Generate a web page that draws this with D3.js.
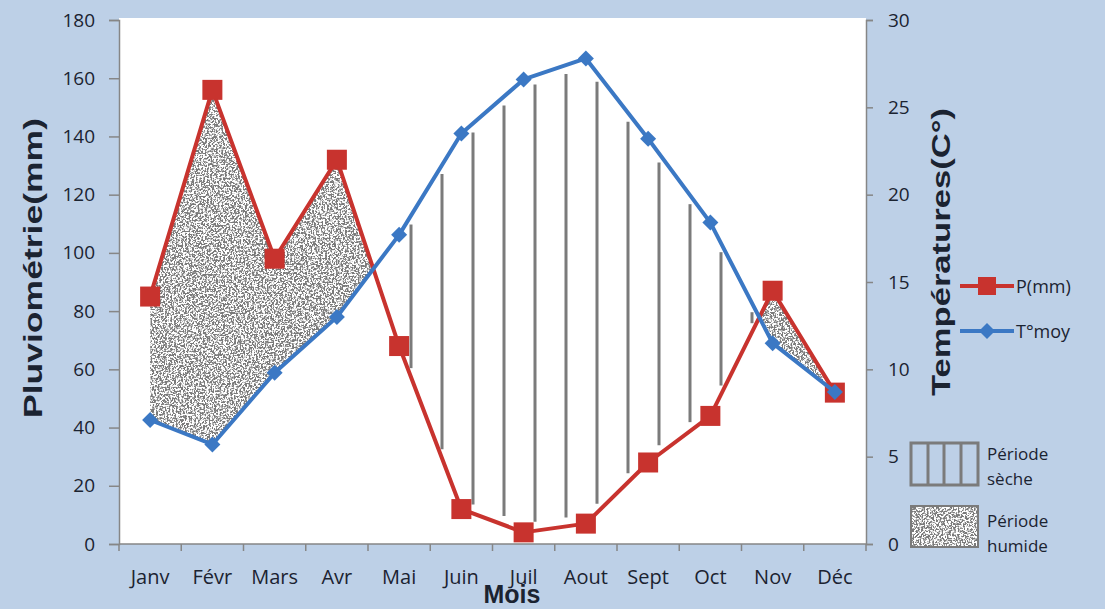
<!DOCTYPE html>
<html>
<head>
<meta charset="utf-8">
<script src="https://cdn.jsdelivr.net/npm/d3@7"></script>
<style>
  body { margin: 0; background: #bdd0e7; }
  svg { display: block; }
  text { font-family: "Open Sans", sans-serif; fill: #1b2331; }
</style>
</head>
<body>
<div id="chart"></div>
<script>
// data
var months = ["Janv", "Févr", "Mars", "Avr", "Mai", "Juin", "Juil", "Aout", "Sept", "Oct", "Nov", "Déc"];
var precip = [85, 156, 98, 132, 68, 12, 4, 7, 28, 44, 87, 52];      // P(mm)
var temps  = [7.1, 5.7, 9.8, 13.0, 17.7, 23.5, 26.6, 27.8, 23.2, 18.4, 11.5, 8.7]; // T°moy
var pTicks = [0, 20, 40, 60, 80, 100, 120, 140, 160, 180];
var tTicks = [0, 5, 10, 15, 20, 25, 30];

var W = 1105, H = 609;
var plotL = 119, plotR = 866, plotT = 20, plotB = 544;
var red = "#c8332e", blue = "#3b78c4", axisCol = "#868686", hatchCol = "#7b7b7b";

var svg = d3.select("#chart").append("svg")
    .attr("width", W).attr("height", H);

var defs = svg.append("defs");
// stipple texture for the wet period
var f = defs.append("filter").attr("id", "stipple")
    .attr("filterUnits", "userSpaceOnUse")
    .attr("x", 0).attr("y", 0).attr("width", W).attr("height", H)
    .attr("color-interpolation-filters", "sRGB");
f.append("feTurbulence").attr("type", "fractalNoise")
    .attr("baseFrequency", 0.55).attr("numOctaves", 4).attr("seed", 4).attr("result", "n");
f.append("feColorMatrix").attr("in", "n").attr("type", "matrix")
    .attr("values", "0 0 0 0 0.48  0 0 0 0 0.48  0 0 0 0 0.48  7 0 0 0 -3.05")
    .attr("result", "dots");
f.append("feComposite").attr("in", "dots").attr("in2", "SourceGraphic").attr("operator", "in");

// plot background
svg.append("rect").attr("x", plotL).attr("y", plotT - 2)
    .attr("width", plotR - plotL).attr("height", plotB - plotT + 2).attr("fill", "#fff");

var x = d3.scaleBand().domain(months).range([plotL, plotR]);
var y = d3.scaleLinear().domain([0, 180]).range([plotB, plotT]);
var yT = d3.scaleLinear().domain([0, 30]).range([plotB, plotT]);
var cx = function(m) { return x(m) + x.bandwidth() / 2; };

// points in pixels, with crossings of the two curves inserted
var pts = [];
months.forEach(function(m, i) {
  var p = { x: cx(m), yp: y(precip[i]), yt: yT(temps[i]) };
  p.d = p.yt - p.yp;
  pts.push(p);
  if (i < months.length - 1) {
    var q = { x: cx(months[i + 1]), yp: y(precip[i + 1]), yt: yT(temps[i + 1]) };
    q.d = q.yt - q.yp;
    if (p.d * q.d < 0) {
      var t = p.d / (p.d - q.d);
      var yy = p.yp + t * (q.yp - p.yp);
      pts.push({ x: p.x + t * (q.x - p.x), yp: yy, yt: yy, d: 0 });
    }
  }
});

// split into runs by sign
var runs = [], cur = [];
pts.forEach(function(p) {
  cur.push(p);
  if (p.d === 0) {
    if (cur.length > 1) runs.push(cur);
    cur = [p];
  }
});
if (cur.length > 1) runs.push(cur);

function polyPath(run) {
  var a = run.map(function(p) { return p.x + "," + p.yp; });
  var b = run.slice().reverse().map(function(p) { return p.x + "," + p.yt; });
  return "M" + a.join("L") + "L" + b.join("L") + "Z";
}
function interp(run, xx, key) {
  for (var i = 0; i < run.length - 1; i++) {
    if (xx >= run[i].x && xx <= run[i + 1].x) {
      var t = (xx - run[i].x) / (run[i + 1].x - run[i].x);
      return run[i][key] + t * (run[i + 1][key] - run[i][key]);
    }
  }
  return null;
}

runs.forEach(function(run) {
  var wet = d3.sum(run, function(p) { return p.d; }) > 0;
  if (wet) {
    svg.append("path").attr("d", polyPath(run))
        .attr("fill", "#000").attr("filter", "url(#stipple)");
  } else {
    // vertical hatching for the dry period
    var x0 = run[0].x, x1 = run[run.length - 1].x;
    var xs = d3.range(380, x1, 31).filter(function(v) { return v > x0 + 8; });
    xs.forEach(function(xx) {
      var a = interp(run, xx, "yt") + 9, b = interp(run, xx, "yp") - 9;
      if (b - a > 4) {
        svg.append("line").attr("x1", xx).attr("x2", xx).attr("y1", a).attr("y2", b)
            .attr("stroke", hatchCol).attr("stroke-width", 3);
      }
    });
  }
});

// axes
var gl = svg.append("g").attr("transform", "translate(" + plotL + ",0)")
    .call(d3.axisLeft(y).tickValues(pTicks).tickSize(10).tickPadding(14));
var gr = svg.append("g").attr("transform", "translate(" + plotR + ",0)")
    .call(d3.axisRight(yT).tickValues(tTicks).tickSize(7).tickPadding(15));
var gb = svg.append("g").attr("transform", "translate(0," + plotB + ")")
    .call(d3.axisBottom(x).tickSize(0).tickPadding(26));
[gl, gr, gb].forEach(function(g) {
  g.select(".domain").attr("stroke", axisCol).attr("stroke-width", 1.5);
  g.selectAll(".tick line").attr("stroke", axisCol).attr("stroke-width", 1.5);
  g.selectAll("text").attr("fill", "#1b2331").style("font-family", "Open Sans, sans-serif");
});
gl.selectAll("text").style("font-size", "19px");
gr.selectAll("text").style("font-size", "19px");
gb.selectAll("text").style("font-size", "20px");
gb.select(".domain").attr("d", "M" + plotL + ",0H" + plotR);
// category boundary ticks
gb.selectAll(".bound").data(d3.range(months.length + 1)).enter().append("line")
    .attr("x1", function(i) { return plotL + i * x.step(); })
    .attr("x2", function(i) { return plotL + i * x.step(); })
    .attr("y1", 0).attr("y2", 7)
    .attr("stroke", axisCol).attr("stroke-width", 1.5);

// lines
var lineP = d3.line().x(function(d, i) { return cx(months[i]); }).y(function(d) { return y(d); });
var lineT = d3.line().x(function(d, i) { return cx(months[i]); }).y(function(d) { return yT(d); });

svg.append("path").datum(precip).attr("d", lineP)
    .attr("fill", "none").attr("stroke", red).attr("stroke-width", 4).attr("stroke-linejoin", "round");
svg.selectAll(".pm").data(precip).enter().append("rect")
    .attr("x", function(d, i) { return cx(months[i]) - 10; })
    .attr("y", function(d) { return y(d) - 10; })
    .attr("width", 20).attr("height", 20).attr("fill", red);

svg.append("path").datum(temps).attr("d", lineT)
    .attr("fill", "none").attr("stroke", blue).attr("stroke-width", 4).attr("stroke-linejoin", "round");
var diamond = "M0,-8L8,0L0,8L-8,0Z";
svg.selectAll(".tm").data(temps).enter().append("path")
    .attr("transform", function(d, i) { return "translate(" + cx(months[i]) + "," + yT(d) + ")"; })
    .attr("d", diamond).attr("fill", blue);

// axis titles
svg.append("text").attr("transform", "translate(42,268) rotate(-90)")
    .attr("text-anchor", "middle")
    .attr("textLength", 300).attr("lengthAdjust", "spacingAndGlyphs")
    .style("font-family", "Liberation Sans, Arial, sans-serif").style("font-weight", "bold")
    .style("font-size", "26px").text("Pluviométrie(mm)");
svg.append("text").attr("transform", "translate(950,252) rotate(-90)")
    .attr("text-anchor", "middle")
    .attr("textLength", 288).attr("lengthAdjust", "spacingAndGlyphs")
    .style("font-family", "Liberation Sans, Arial, sans-serif").style("font-weight", "bold")
    .style("font-size", "25px").text("Températures(C°)");
svg.append("text").attr("x", 512).attr("y", 603)
    .attr("text-anchor", "middle")
    .style("font-family", "Liberation Sans, Arial, sans-serif").style("font-weight", "bold")
    .style("font-size", "25px").text("Mois");

// legend
var leg = [
  { name: "P(mm)", color: red, y: 286, mark: "square" },
  { name: "T°moy", color: blue, y: 331, mark: "diamond" }
];
leg.forEach(function(l) {
  svg.append("line").attr("x1", 960).attr("x2", 1014).attr("y1", l.y).attr("y2", l.y)
      .attr("stroke", l.color).attr("stroke-width", 4);
  if (l.mark === "square") {
    svg.append("rect").attr("x", 978).attr("y", l.y - 9).attr("width", 18).attr("height", 18).attr("fill", l.color);
  } else {
    svg.append("path").attr("transform", "translate(987," + l.y + ")").attr("d", diamond).attr("fill", l.color);
  }
  svg.append("text").attr("x", 1016).attr("y", l.y + 7).style("font-size", "18px").text(l.name);
});

// dry box
svg.append("rect").attr("x", 911).attr("y", 443).attr("width", 67).attr("height", 42)
    .attr("fill", "none").attr("stroke", hatchCol).attr("stroke-width", 3);
[928, 944, 961].forEach(function(xx) {
  svg.append("line").attr("x1", xx).attr("x2", xx).attr("y1", 443).attr("y2", 485)
      .attr("stroke", hatchCol).attr("stroke-width", 3);
});
svg.append("text").attr("x", 987).attr("y", 460).style("font-size", "17px").text("Période");
svg.append("text").attr("x", 987).attr("y", 485).style("font-size", "17px").text("sèche");
// wet box
svg.append("rect").attr("x", 911).attr("y", 506).attr("width", 67).attr("height", 41)
    .attr("fill", "#fff");
svg.append("rect").attr("x", 911).attr("y", 506).attr("width", 67).attr("height", 41)
    .attr("fill", "#000").attr("filter", "url(#stipple)");
svg.append("rect").attr("x", 911).attr("y", 506).attr("width", 67).attr("height", 41)
    .attr("fill", "none").attr("stroke", hatchCol).attr("stroke-width", 2);
svg.append("text").attr("x", 987).attr("y", 527).style("font-size", "17px").text("Période");
svg.append("text").attr("x", 987).attr("y", 552).style("font-size", "17px").text("humide");
</script>
</body>
</html>
